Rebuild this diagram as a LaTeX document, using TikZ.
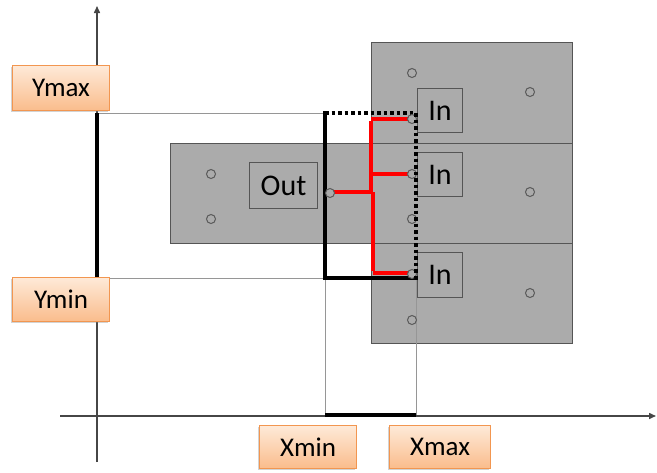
\documentclass[tikz,border=0pt]{standalone}
\usepackage{fontspec}
\setmainfont{Carlito}
\usetikzlibrary{arrows.meta,shadows}
\definecolor{boxgray}{RGB}{171,171,171}
\definecolor{boxedge}{RGB}{85,85,85}
\definecolor{guide}{RGB}{150,150,150}
\definecolor{peachtop}{RGB}{254,234,216}
\definecolor{peachbot}{RGB}{250,188,140}
\definecolor{peachedge}{RGB}{242,150,80}
\definecolor{axiscol}{RGB}{70,70,70}
\definecolor{pincol}{RGB}{90,90,90}
\tikzset{
  graybox/.style={draw=boxedge, fill=boxgray, line width=1.1pt, inner sep=0pt, anchor=north west},
  portbox/.style={draw=boxedge, line width=1.1pt, inner sep=0pt, anchor=north west, font=\fontsize{30}{32}\selectfont},
  labelbox/.style={draw=peachedge, line width=1pt, top color=peachtop, bottom color=peachbot, inner sep=0pt, anchor=north west,
    font=\fontsize{27}{30}\selectfont, drop shadow={shadow xshift=-1.5pt, shadow yshift=-1.5pt, opacity=0.35}},
  pin/.style={circle, draw=pincol, fill=boxgray, line width=1pt, minimum size=9pt, inner sep=0pt},
  guideline/.style={draw=guide, line width=0.8pt},
  axisline/.style={draw=axiscol, line width=1.5pt, -{Triangle[length=7pt,width=6pt]}},
  thickblack/.style={draw=black, line width=3.5pt},
  dottedblack/.style={draw=black, line width=3.5pt, dash pattern=on 3.5pt off 3pt},
  redwire/.style={draw=red, line width=3.5pt},
}
\begin{document}
\begin{tikzpicture}[x=1pt,y=-1pt]
\useasboundingbox (0,0) rectangle (657,472);
% axes
\coordinate (ybot) at (97,462);
\coordinate (ytop) at (97,6);
\coordinate (xleft) at (60,416);
\coordinate (xright) at (656,416);
\draw[axisline] (ybot) -- (ytop);
\draw[axisline] (xleft) -- (xright);
% gray blocks
\node[graybox, minimum width=201pt, minimum height=100pt] (L) at (170,143) {};
\node[graybox, minimum width=201pt, minimum height=101pt] (R1) at (371,42) {};
\node[graybox, minimum width=201pt, minimum height=100pt] (R2) at (371,143) {};
\node[graybox, minimum width=201pt, minimum height=100pt] (R3) at (371,243) {};
% port boxes
\node[portbox, minimum width=68pt, minimum height=46pt] (out) at (249,162) {Out};
\node[portbox, minimum width=45pt, minimum height=44pt] (in1) at (417,88) {In};
\node[portbox, minimum width=45pt, minimum height=44pt] (in2) at (417,152) {In};
\node[portbox, minimum width=45pt, minimum height=45pt] (in3) at (417,252) {In};
% guide lines
\coordinate (ymaxL) at (97,113);
\coordinate (yminL) at (97,278);
\coordinate (tl) at (325,113);
\coordinate (tr) at (416,113);
\coordinate (bl) at (325,278);
\coordinate (br) at (416,278);
\coordinate (xminB) at (325,415);
\coordinate (xmaxB) at (416,415);
\draw[guideline] (ymaxL) -- (tl);
\draw[guideline] (yminL) -- (bl);
\draw[guideline] (bl) -- (xminB);
\draw[guideline] (br) -- (xmaxB);
% ranges on axes
\draw[thickblack] (ymaxL) -- (yminL);
\draw[thickblack] (xminB) -- (xmaxB);
% window rectangle
\draw[thickblack, line cap=rect] (tl) -- (bl) -- (br);
\draw[dottedblack] (tl) -- (tr) -- (br);
% red wires
\coordinate (tA) at (371,119);
\coordinate (tB) at (371,192);
\coordinate (tC) at (373,192);
\coordinate (tD) at (373,273);
\coordinate (tM) at (371,174);
\coordinate (e1) at (412,119);
\coordinate (e2) at (412,174);
\coordinate (e3) at (412,273);
\coordinate (e0) at (330,192);
\draw[redwire] ([yshift=-1.75pt]tA) -- (tB);
\draw[redwire] (tC) -- ([yshift=1.75pt]tD);
\draw[redwire] (tA) -- (e1);
\draw[redwire] (tM) -- (e2);
\draw[redwire] (tD) -- (e3);
\draw[redwire] (e0) -- (tC);
% pins
\node[pin] (p1) at (211,174) {};
\node[pin] (p2) at (211,219) {};
\node[pin] (p3) at (330,193) {};
\node[pin] (p4) at (412,73) {};
\node[pin] (p5) at (530,92) {};
\node[pin] (p6) at (412,119) {};
\node[pin] (p7) at (412,174) {};
\node[pin] (p8) at (530,192) {};
\node[pin] (p9) at (412,219) {};
\node[pin] (p10) at (412,274) {};
\node[pin] (p11) at (530,293) {};
\node[pin] (p12) at (412,320) {};
% redraw dotted right edge over pins
\draw[dottedblack] (tr) -- (br);
% labels
\node[labelbox, minimum width=97pt, minimum height=45pt] (ymax) at (12,65) {Ymax};
\node[labelbox, minimum width=97pt, minimum height=44pt] (ymin) at (12,277) {Ymin};
\node[labelbox, minimum width=97pt, minimum height=43pt] (xmin) at (259,425) {Xmin};
\node[labelbox, minimum width=101pt, minimum height=43pt] (xmax) at (389,425) {Xmax};
\end{tikzpicture}
\end{document}
